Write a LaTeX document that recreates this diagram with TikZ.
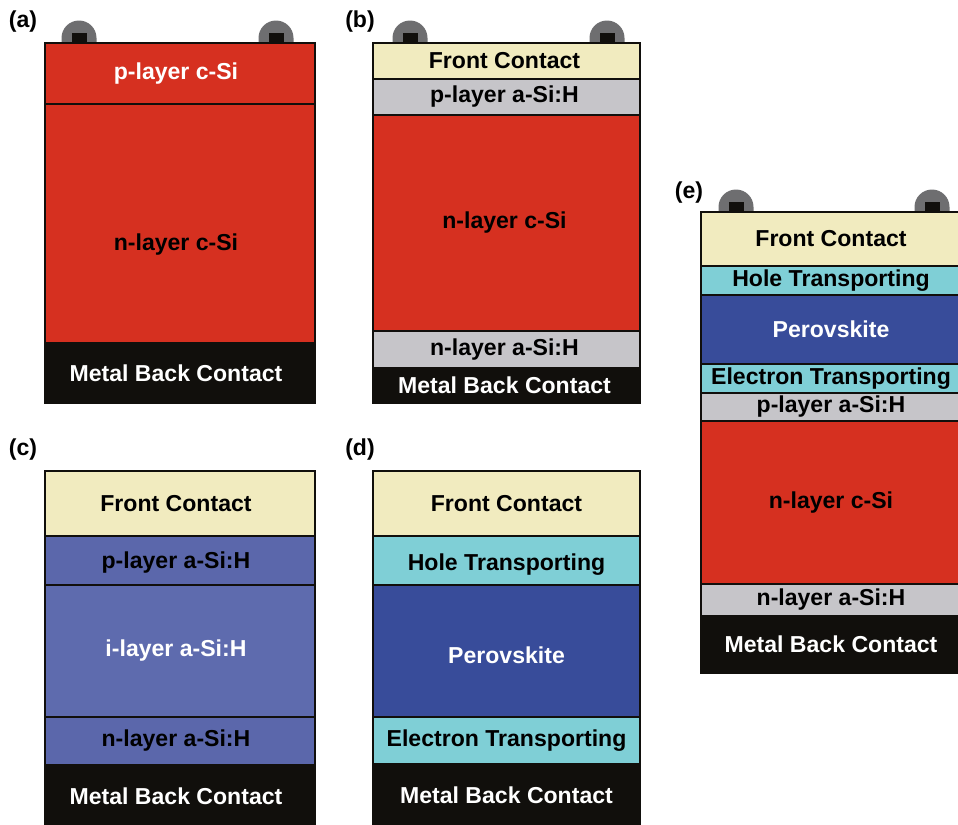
\documentclass[tikz,border=0pt]{standalone}
\usepackage{fontspec}
\setmainfont{Liberation Sans}
\definecolor{cred}{HTML}{D63020}
\definecolor{ccream}{HTML}{F1EBBF}
\definecolor{cgray}{HTML}{C6C5C9}
\definecolor{ccyan}{HTML}{7FCFD6}
\definecolor{cperov}{HTML}{384C9A}
\definecolor{casi}{HTML}{5B67AB}
\definecolor{cilayer}{HTML}{5E6BAE}
\definecolor{cblack}{HTML}{110F0C}
\definecolor{ccontact}{HTML}{6E6E70}
\tikzset{
  layerbox/.style={draw=cblack, line width=1.3pt},
  laytext/.style={font=\bfseries\fontsize{17.3}{20}\selectfont, inner sep=0pt},
  plabel/.style={font=\bfseries\fontsize{17.3}{20}\selectfont, inner sep=0pt},
  contactdome/.style={fill=ccontact, draw=none},
  contactpad/.style={fill=cblack, draw=none}
}
% \lay{name}{x1}{y1}{x2}{y2}{fill}{textcolor}{text}{extra node options}
\newcommand\lay[9]{%
  \path[layerbox, fill=#6] (#2,#3) rectangle (#4,#5)
    node[midway, laytext, text=#7, #9] (#1) {#8};}
% \contactat{name}{x}{ytop}
\newcommand\contactat[3]{%
  \fill[contactdome] ({#2-17.5},#3) -- ({#2-17.5},{#3-5}) arc (180:360:17.5) -- ({#2+17.5},#3) -- cycle;
  \fill[contactpad] ({#2-7.5},#3) rectangle ({#2+7.5},{#3-10});
  \coordinate (#1) at (#2,#3);}
\begin{document}
\begin{tikzpicture}[x=0.75pt,y=-0.75pt]
\useasboundingbox (0,0) rectangle (958,825);
\clip (0,0) rectangle (958,825);
% ---------- (a)
\node[plabel] (la) at (23,22) {(a)};
\contactat{ca1}{79}{43}
\contactat{ca2}{276}{43}
\lay{a1}{45}{43}{315}{104}{cred}{white}{p-layer c-Si}{xshift=-3pt}
\lay{a2}{45}{104}{315}{343}{cred}{black}{n-layer c-Si}{xshift=-3pt, yshift=-16pt}
\lay{a3}{45}{343}{315}{403}{cblack}{white}{Metal Back Contact}{xshift=-3pt}
% ---------- (b)
\node[plabel] (lb) at (360,22) {(b)};
\contactat{cb1}{410}{43}
\contactat{cb2}{607}{43}
\lay{b1}{373}{43}{640}{79}{ccream}{black}{Front Contact}{xshift=-1.5pt}
\lay{b2}{373}{79}{640}{115}{cgray}{black}{p-layer a-Si:H}{xshift=-1.5pt}
\lay{b3}{373}{115}{640}{331}{cred}{black}{n-layer c-Si}{xshift=-1.5pt}
\lay{b4}{373}{331}{640}{368}{cgray}{black}{n-layer a-Si:H}{xshift=-1.5pt}
\lay{b5}{373}{368}{640}{403}{cblack}{white}{Metal Back Contact}{xshift=-1.5pt}
% ---------- (c)
\node[plabel] (lc) at (23,450) {(c)};
\lay{c1}{45}{471}{315}{536}{ccream}{black}{Front Contact}{xshift=-3pt}
\lay{c2}{45}{536}{315}{585}{casi}{black}{p-layer a-Si:H}{xshift=-3pt, yshift=-1.5pt}
\lay{c3}{45}{585}{315}{717}{cilayer}{white}{i-layer a-Si:H}{xshift=-3pt}
\lay{c4}{45}{717}{315}{765}{casi}{black}{n-layer a-Si:H}{xshift=-3pt}
\lay{c5}{45}{765}{315}{827}{cblack}{white}{Metal Back Contact}{xshift=-3pt}
% ---------- (d)
\node[plabel] (ld) at (360,450) {(d)};
\lay{d1}{373}{471}{640}{536}{ccream}{black}{Front Contact}{}
\lay{d2}{373}{536}{640}{585}{ccyan}{black}{Hole Transporting}{yshift=-3pt}
\lay{d3}{373}{585}{640}{717}{cperov}{white}{Perovskite}{yshift=-3pt}
\lay{d4}{373}{717}{640}{764}{ccyan}{black}{Electron Transporting}{}
\lay{d5}{373}{764}{640}{827}{cblack}{white}{Metal Back Contact}{}
% ---------- (e)
\node[plabel] (le) at (689,193) {(e)};
\contactat{ce1}{736}{212}
\contactat{ce2}{932}{212}
\lay{e1}{701}{212}{961}{266}{ccream}{black}{Front Contact}{}
\lay{e2}{701}{266}{961}{295}{ccyan}{black}{Hole Transporting}{}
\lay{e3}{701}{295}{961}{364}{cperov}{white}{Perovskite}{}
\lay{e4}{701}{364}{961}{393}{ccyan}{black}{Electron Transporting}{}
\lay{e5}{701}{393}{961}{421}{cgray}{black}{p-layer a-Si:H}{}
\lay{e6}{701}{421}{961}{584}{cred}{black}{n-layer c-Si}{}
\lay{e7}{701}{584}{961}{616}{cgray}{black}{n-layer a-Si:H}{}
\lay{e8}{701}{616}{961}{673}{cblack}{white}{Metal Back Contact}{}
\end{tikzpicture}
\end{document}
